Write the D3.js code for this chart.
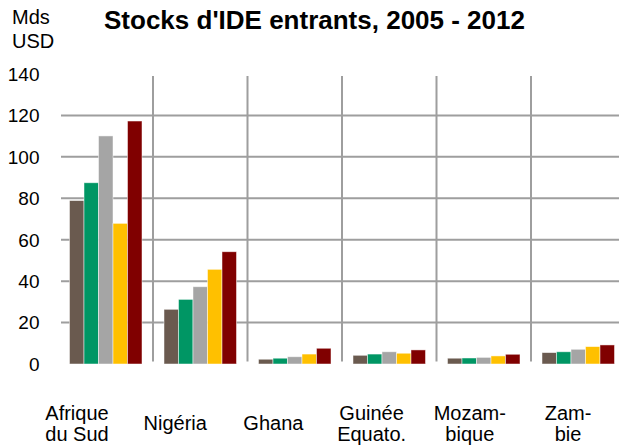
<!DOCTYPE html>
<html>
<head>
<meta charset="utf-8">
<script src="https://cdn.jsdelivr.net/npm/d3@7"></script>
<style>
  html, body { margin: 0; padding: 0; background: #fff; }
  svg { display: block; font-family: "Liberation Sans", Arial, sans-serif; }
</style>
</head>
<body>
<svg id="chart" width="619" height="448"></svg>
<script>
// Inward FDI stocks, billions of USD
const categories = ["Afrique du Sud", "Nigéria", "Ghana", "Guinée Equato.", "Mozambique", "Zambie"];
const categoryLines = [["Afrique", "du Sud"], ["Nigéria"], ["Ghana"], ["Guinée", "Equato."], ["Mozam-", "bique"], ["Zam-", "bie"]];
const seriesNames = ["2005", "2009", "2010", "2011", "2012"];
const seriesColors = ["#6a5a4f", "#009664", "#a5a5a5", "#ffc000", "#800000"];

const valuesAfriqueDuSud = [78.9, 87.5, 110.1, 67.9, 117.3];
const valuesNigeria      = [26.4, 31.2, 37.3, 45.7, 54.2];
const valuesGhana        = [2.3, 2.8, 3.5, 4.8, 7.6];
const valuesGuinee       = [4.2, 4.8, 5.9, 5.2, 6.8];
const valuesMozambique   = [2.8, 2.9, 3.2, 3.9, 4.7];
const valuesZambie       = [5.5, 5.9, 7.1, 8.4, 9.2];

const yTicks = [0, 20, 40, 60, 80, 100, 120, 140];

const table = [valuesAfriqueDuSud, valuesNigeria, valuesGhana, valuesGuinee, valuesMozambique, valuesZambie]
  .map((vals, i) => ({ category: categories[i], lines: categoryLines[i], values: vals }));

const svg = d3.select("#chart");
const W = 619;

const x0 = d3.scaleBand().domain(categories).range([58.5, 625.5]).paddingInner(0).paddingOuter(0);
const x1 = d3.scaleBand().domain(seriesNames).range([11, x0.bandwidth() - 11]).padding(0);
const y = d3.scaleLinear().domain([0, 140]).range([364, 74]);
const xLabel = d3.scalePoint().domain(categories).range([77, 568]);

const gridColor = "#9e9e9e";

// horizontal gridlines
svg.append("g").selectAll("line")
  .data(yTicks.filter(t => t > 0 && t < 140))
  .join("line")
  .attr("x1", 61).attr("x2", W)
  .attr("y1", d => y(d)).attr("y2", d => y(d))
  .attr("stroke", gridColor).attr("stroke-width", 2);

// vertical separators between categories
svg.append("g").selectAll("line")
  .data(categories.slice(1))
  .join("line")
  .attr("x1", d => x0(d)).attr("x2", d => x0(d))
  .attr("y1", y(140) + 2).attr("y2", y(0) - 2.5)
  .attr("stroke", gridColor).attr("stroke-width", 2);

// bars
const groups = svg.append("g").selectAll("g")
  .data(table)
  .join("g")
  .attr("transform", d => `translate(${x0(d.category)},0)`);

groups.selectAll("rect")
  .data(d => d.values.map((v, i) => ({ series: seriesNames[i], value: v, color: seriesColors[i] })))
  .join("rect")
  .attr("x", d => x1(d.series))
  .attr("width", x1.bandwidth())
  .attr("y", d => y(d.value))
  .attr("height", d => y(0) - y(d.value))
  .attr("fill", d => d.color)
  .attr("stroke", "#fff")
  .attr("stroke-opacity", 0.6)
  .attr("stroke-width", 0.8);

// y tick labels
svg.append("g").selectAll("text")
  .data(yTicks)
  .join("text")
  .attr("x", 39.5)
  .attr("y", d => y(d))
  .attr("dy", "0.36em")
  .attr("text-anchor", "end")
  .attr("font-size", 19)
  .attr("fill", "#000")
  .text(d => d);

// category labels
const lab = svg.append("g").selectAll("text")
  .data(table)
  .join("text")
  .attr("text-anchor", "middle")
  .attr("font-size", 20)
  .attr("fill", "#000")
  .attr("transform", d => `translate(${xLabel(d.category)},430)`);

lab.selectAll("tspan")
  .data(d => d.lines.map((t, i) => ({ t, i, n: d.lines.length })))
  .join("tspan")
  .attr("x", 0)
  .attr("y", d => (d.i - (d.n - 1) / 2) * 21)
  .text(d => d.t);

// unit label
const unit = svg.append("text").attr("font-size", 20).attr("fill", "#000");
unit.append("tspan").attr("x", 12).attr("y", 24.3).text("Mds");
unit.append("tspan").attr("x", 12).attr("y", 47.7).text("USD");

// title
svg.append("text")
  .attr("x", 314.5).attr("y", 29.3)
  .attr("text-anchor", "middle")
  .attr("font-size", 26)
  .attr("font-weight", "bold")
  .attr("fill", "#000")
  .text("Stocks d'IDE entrants, 2005 - 2012");
</script>
</body>
</html>
